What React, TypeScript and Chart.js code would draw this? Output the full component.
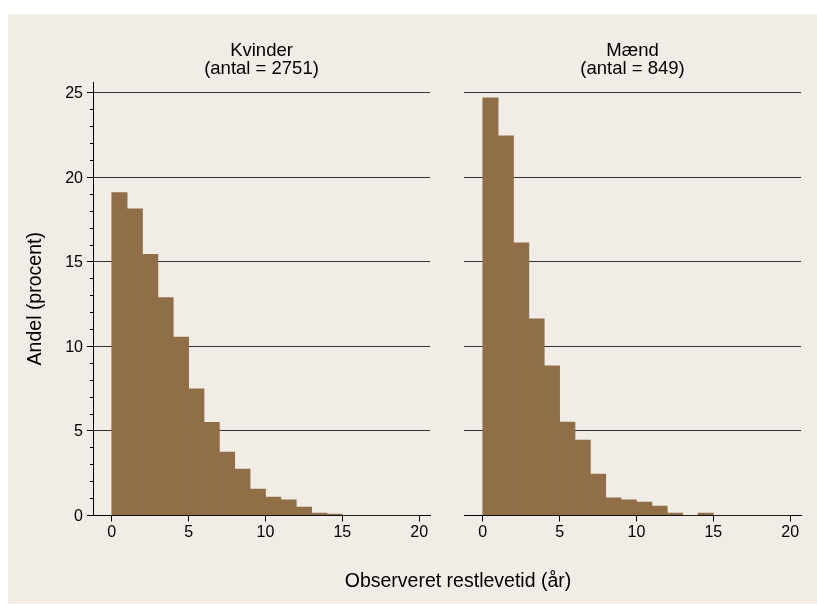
import React, { useEffect, useRef } from 'react';
import { Chart, registerables } from 'chart.js';

Chart.register(...registerables);

// ---- data ----
const binStarts = [0, 1, 2, 3, 4, 5, 6, 7, 8, 9, 10, 11, 12, 13, 14, 15, 16, 17, 18, 19];
const binWidth = 1;
const kvinderValues = [19.1, 18.15, 15.45, 12.9, 10.55, 7.5, 5.52, 3.75, 2.75, 1.57, 1.09, 0.92, 0.5, 0.15, 0.09, 0, 0, 0, 0, 0];
const maendValues = [24.72, 22.47, 16.13, 11.63, 8.85, 5.53, 4.46, 2.45, 1.04, 0.92, 0.8, 0.56, 0.14, 0, 0.14, 0, 0, 0, 0, 0];
const kvinderTitle = ['Kvinder', '(antal = 2751)'];
const maendTitle = ['Mænd', '(antal = 849)'];
const xTicks = [0, 5, 10, 15, 20];
const yMajorTicks = [0, 5, 10, 15, 20, 25];
const yMinorTicks = [1, 2, 3, 4, 6, 7, 8, 9, 11, 12, 13, 14, 16, 17, 18, 19, 21, 22, 23, 24];
const yTitle = 'Andel (procent)';
const xTitle = 'Observeret restlevetid (år)';

const X_MIN = -1.22;
const X_MAX = 20.7;
const Y_MAX = 25.65;

const BG = '#f2ece6';
const BAR = '#8f6e48';
const GRID = '#333333';
const FONT = '"Liberation Sans", Arial, Helvetica, sans-serif';

const minorTickPlugin = {
  id: 'minorTicks',
  afterDraw(chart: any) {
    const y = chart.scales.y;
    const left = chart.chartArea.left;
    const ctx = chart.ctx;
    ctx.save();
    ctx.strokeStyle = '#000';
    ctx.lineWidth = 1;
    ctx.beginPath();
    const lx = Math.round(left - 0.5) + 0.5;
    for (const v of yMinorTicks) {
      const py = Math.round(y.getPixelForValue(v) - 0.5) + 0.5;
      ctx.moveTo(lx - 3.5, py);
      ctx.lineTo(lx, py);
    }
    ctx.stroke();
    ctx.restore();
  },
};

function makeConfig(values: number[], title: string[], showY: boolean): any {
  const yScale: any = showY
    ? {
        type: 'linear',
        min: 0,
        max: Y_MAX,
        afterBuildTicks: (s: any) => {
          s.ticks = yMajorTicks.map((v) => ({ value: v }));
        },
        ticks: { font: { size: 16, family: FONT }, color: '#000', padding: 4, labelOffset: 1 },
        grid: { color: GRID, lineWidth: 1, drawTicks: true, tickLength: 6, tickColor: '#000' },
        border: { display: true, color: '#000', width: 1 },
        title: {
          display: true,
          text: yTitle,
          color: '#000',
          font: { size: 19.5, family: FONT, lineHeight: 1 },
          padding: { top: 18.25, bottom: 0 },
        },
        afterFit: (s: any) => {
          s.width = 85;
          s.paddingTop = 0;
          s.paddingBottom = 0;
        },
      }
    : {
        type: 'linear',
        min: 0,
        max: Y_MAX,
        afterBuildTicks: (s: any) => {
          s.ticks = yMajorTicks.map((v) => ({ value: v }));
        },
        ticks: { display: false },
        grid: { color: GRID, lineWidth: 1, drawTicks: false },
        border: { display: false },
        afterFit: (s: any) => {
          s.width = 0;
          s.paddingTop = 0;
          s.paddingBottom = 0;
        },
      };

  return {
    type: 'bar',
    data: {
      datasets: [
        {
          data: binStarts.map((b, i) => ({ x: b + binWidth / 2, y: values[i] })),
          backgroundColor: BAR,
          borderWidth: 0,
          barPercentage: 1,
          categoryPercentage: 1,
        },
      ],
    },
    options: {
      animation: false,
      responsive: false,
      events: [],
      layout: {
        padding: showY
          ? { left: 8, right: 10, top: 0, bottom: 49.5 }
          : { left: 24, right: 16, top: 0, bottom: 49.5 },
      },
      plugins: {
        legend: { display: false },
        tooltip: { enabled: false },
        title: {
          display: true,
          text: title,
          color: '#000',
          fullSize: false,
          font: { size: 18.5, family: FONT, weight: 'normal', lineHeight: 1 },
          padding: { top: 41.25, bottom: 3.75 },
        },
      },
      scales: {
        x: {
          type: 'linear',
          min: X_MIN,
          max: X_MAX,
          offset: false,
          z: 1,
          afterBuildTicks: (s: any) => {
            s.ticks = xTicks.map((v) => ({ value: v }));
          },
          ticks: {
            font: { size: 16, family: FONT, lineHeight: 1.2 },
            color: '#000',
            padding: 1,
            maxRotation: 0,
            autoSkip: false,
          },
          grid: {
            offset: false,
            drawOnChartArea: false,
            drawTicks: true,
            tickLength: 6,
            tickColor: '#000',
            color: '#000',
          },
          border: { display: true, color: '#000', width: 1 },
          afterFit: (s: any) => {
            s.height = 40;
            s.paddingLeft = 0;
            s.paddingRight = 0;
          },
        },
        y: yScale,
      },
    },
    plugins: showY ? [minorTickPlugin] : [],
  };
}

export default function App() {
  const leftRef = useRef<HTMLCanvasElement | null>(null);
  const rightRef = useRef<HTMLCanvasElement | null>(null);

  useEffect(() => {
    Chart.defaults.font.family = FONT;
    Chart.defaults.color = '#000';
    const c1 = new Chart(leftRef.current as HTMLCanvasElement, makeConfig(kvinderValues, kvinderTitle, true));
    const c2 = new Chart(rightRef.current as HTMLCanvasElement, makeConfig(maendValues, maendTitle, false));
    return () => {
      c1.destroy();
      c2.destroy();
    };
  }, []);

  return (
    <div
      style={{
        position: 'fixed',
        left: 0,
        top: 0,
        width: 817,
        height: 605,
        background: '#ffffff',
        overflow: 'hidden',
        fontFamily: FONT,
      }}
    >
      <div style={{ position: 'absolute', left: 8, top: 14, width: 809, height: 590, background: BG }} />
      <canvas
        ref={leftRef}
        width={440}
        height={605}
        style={{ position: 'absolute', left: 0, top: 0, width: 440, height: 605 }}
      />
      <canvas
        ref={rightRef}
        width={377}
        height={605}
        style={{ position: 'absolute', left: 440, top: 0, width: 377, height: 605 }}
      />
      <div
        style={{
          position: 'absolute',
          left: 258,
          top: 570,
          width: 400,
          textAlign: 'center',
          fontSize: 19.5,
          lineHeight: '20px',
          color: '#000',
          whiteSpace: 'nowrap',
        }}
      >
        {xTitle}
      </div>
    </div>
  );
}
